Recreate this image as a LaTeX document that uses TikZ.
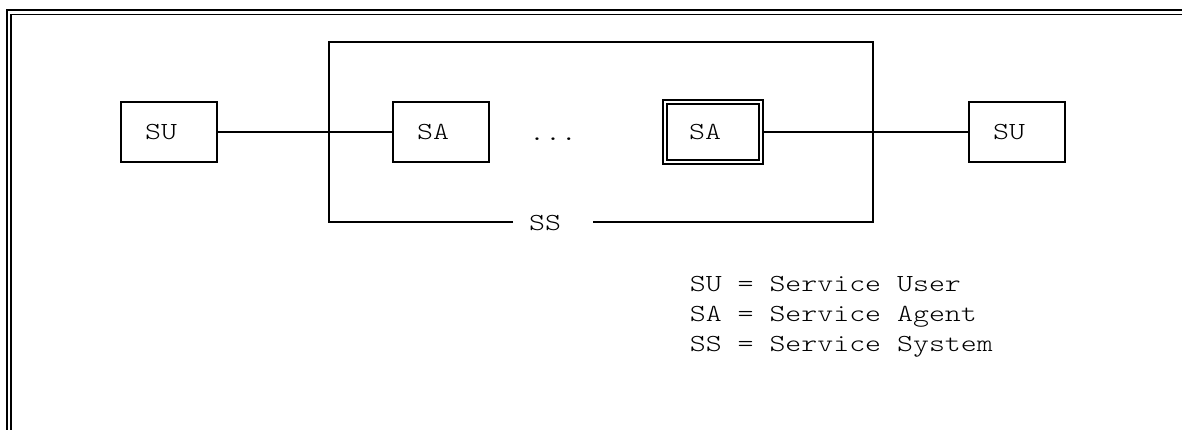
\documentclass[tikz,border=0pt]{standalone}
\usepackage{fontspec}
\setmonofont{lmmonolt10-regular.otf}[FakeStretch=1.24]
\usepackage{tikz}

\tikzset{
  mono/.style={font=\ttfamily\fontsize{24.5}{30}\selectfont, inner sep=0pt},
  unit/.style={mono, draw, minimum width=96pt, minimum height=60pt},
  frame/.style={line width=1.6pt, double, double distance=2.8pt},
}

\begin{document}
\begin{tikzpicture}[x=1pt, y=-1pt, line width=1.6pt]
  \useasboundingbox (0,0) rectangle (1182,430);
  \draw [frame] (9,430) -- (9,12.5) -- (1182,12.5);

  \node (su1) [unit] at (169,132) {SU\phantom{X}};
  \node (sa1) [unit] at (441,132) {SA\phantom{X}};
  \node (more) [mono, anchor=base] at (553,141) {...};
  \node (sa2) [unit, double, double distance=2.4pt] at (713,132) {SA\phantom{X}};
  \node (su2) [unit] at (1017,132) {SU\phantom{X}};

  % service system
  \coordinate (ss nw) at (329,42);
  \coordinate (ss se) at (873,222);
  \coordinate (gap l) at (513,222);
  \coordinate (gap r) at (593,222);
  \node (ss) [mono, anchor=base] at (545,231) {SS};
  \draw (gap l) -| (ss nw) -| (ss se) -- (gap r);

  \path (su1) edge (sa1);
  \path (sa2) edge[shorten <=2pt] (su2);

  \node (key su) [mono, anchor=base west] at (689,291) {SU = Service User};
  \node (key sa) [mono, anchor=base west] at (689,321) {SA = Service Agent};
  \node (key ss) [mono, anchor=base west] at (689,351) {SS = Service System};
\end{tikzpicture}
\end{document}
